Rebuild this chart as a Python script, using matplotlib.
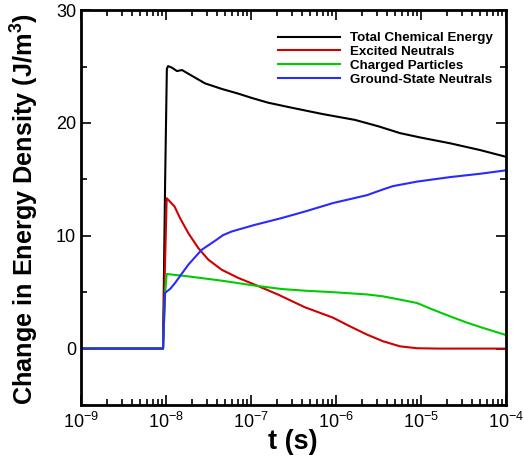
import numpy as np
import matplotlib
matplotlib.use("Agg")
import matplotlib.pyplot as plt
from matplotlib.ticker import (FixedLocator, MultipleLocator, LogFormatterMathtext,
                               NullFormatter)

plt.rcParams['font.family'] = ['Liberation Sans', 'DejaVu Sans']
plt.rcParams['mathtext.fontset'] = 'custom'
plt.rcParams['mathtext.rm'] = 'Liberation Sans'
plt.rcParams['mathtext.bf'] = 'Liberation Sans:bold'
plt.rcParams['mathtext.default'] = 'regular'

# log10(t) and energy density (J/m^3) values
total_logt = [-9.0, -8.035, -8.01, -7.99, -7.976, -7.93, -7.871, -7.812, -7.7, -7.541,
              -7.341, -7.15, -6.988, -6.8, -6.565, -6.165, -5.776, -5.5, -5.247, -5.0,
              -4.659, -4.306, -4.0]
total_val = [0.0, 0.0, 15.0, 24.8, 25.04, 24.9, 24.6, 24.69, 24.2, 23.51,
             23.01, 22.6, 22.21, 21.8, 21.42, 20.80, 20.27, 19.7, 19.1, 18.7,
             18.2, 17.6, 17.0]

excited_logt = [-9.0, -8.035, -8.01, -7.992, -7.9, -7.835, -7.738, -7.62, -7.502, -7.345,
                -7.149, -6.953, -6.679, -6.365, -6.035, -5.835, -5.635, -5.447, -5.247,
                -5.047, -4.8, -4.0]
excited_val = [0.0, 0.0, 8.0, 13.33, 12.6, 11.57, 10.24, 8.91, 7.88, 6.99,
               6.26, 5.66, 4.78, 3.66, 2.74, 1.97, 1.24, 0.65, 0.2,
               0.03, 0.0, 0.0]

charged_logt = [-9.0, -8.035, -8.01, -7.992, -7.738, -7.345, -6.953, -6.639, -6.365,
                -6.035, -5.635, -5.447, -5.247, -5.047, -4.859, -4.659, -4.459, -4.27, -4.0]
charged_val = [0.0, 0.0, 5.0, 6.61, 6.4, 6.02, 5.58, 5.28, 5.13,
               5.0, 4.8, 4.63, 4.34, 4.04, 3.45, 2.86, 2.3, 1.83, 1.2]

ground_logt = [-9.0, -8.035, -8.012, -7.95, -7.894, -7.738, -7.58, -7.424, -7.33, -7.227,
               -6.953, -6.639, -6.365, -6.035, -5.635, -5.45, -5.33, -5.047, -4.659, -4.3, -4.0]
ground_val = [0.0, 0.0, 4.93, 5.3, 5.81, 7.43, 8.76, 9.55, 10.05, 10.38,
              10.97, 11.57, 12.15, 12.9, 13.6, 14.1, 14.4, 14.8, 15.2, 15.5, 15.8]

labels = ['Total Chemical Energy', 'Excited Neutrals', 'Charged Particles', 'Ground-State Neutrals']
colors = ['#000000', '#d00000', '#00cc00', '#2a2aff']

x_major_ticks = [1e-9, 1e-8, 1e-7, 1e-6, 1e-5, 1e-4]
y_major_ticks = [0, 10, 20, 30]

fig = plt.figure(figsize=(5.24, 4.61), dpi=100)
ax = fig.add_axes([0.1546, 0.1215, 0.9656 - 0.1546, 0.978 - 0.1215])

series = [(total_logt, total_val), (excited_logt, excited_val),
          (charged_logt, charged_val), (ground_logt, ground_val)]
for (lt, v), lab, c in zip(series, labels, colors):
    ax.plot(10.0 ** np.array(lt), v, color=c, lw=1.5, label=lab)

ax.set_xscale('log')
ax.set_xlim(1e-9, 1e-4)
ax.set_ylim(-5, 30)
ax.xaxis.set_major_locator(FixedLocator(x_major_ticks))
minor_x = [m * d for d in x_major_ticks[:-1] for m in range(2, 10)]
ax.xaxis.set_minor_locator(FixedLocator(minor_x))
ax.xaxis.set_major_formatter(LogFormatterMathtext())
ax.xaxis.set_minor_formatter(NullFormatter())
ax.yaxis.set_major_locator(FixedLocator(y_major_ticks))
ax.yaxis.set_minor_locator(MultipleLocator(5))

ax.tick_params(which='both', direction='in', top=True, right=True, width=1.2, labelsize=13)
ax.tick_params(which='major', length=7)
ax.tick_params(which='minor', length=4)
ax.tick_params(axis='x', which='major', pad=5)
for s in ax.spines.values():
    s.set_linewidth(2)

ax.set_xlabel('t (s)', fontsize=19.5, fontweight='bold')
ax.xaxis.set_label_coords(0.499, -0.062)
ax.set_ylabel('Change in Energy Density (J/m$^\\mathbf{3}$)', fontsize=18.2, fontweight='bold')
ax.yaxis.set_label_coords(-0.095, 0.497)

leg = ax.legend(loc='upper right', bbox_to_anchor=(0.995, 0.972), frameon=False,
                prop={'weight': 'bold', 'size': 9.6},
                handlelength=4.6, labelspacing=0.12, borderaxespad=0.4, handletextpad=0.8)

fig.savefig('out.png', dpi=100)
